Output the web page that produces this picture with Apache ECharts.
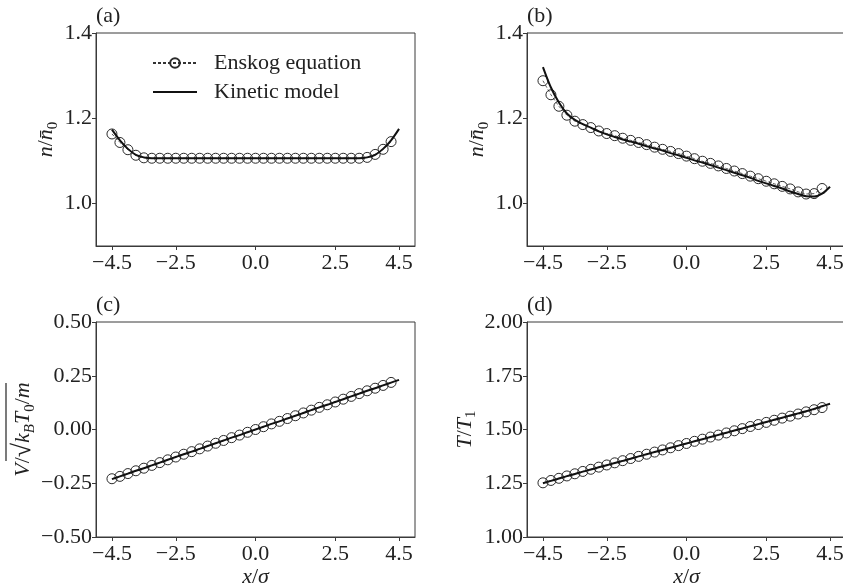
<!DOCTYPE html>
<html>
<head>
<meta charset="utf-8">
<script src="https://cdn.jsdelivr.net/npm/echarts@6/dist/echarts.min.js"></script>
<style>
  html, body { margin: 0; padding: 0; background: #fff; }
  #main { width: 843px; height: 583px; }
</style>
</head>
<body>
<div id="main"></div>
<script>
// x positions (x / sigma)
var xEnskog = [-4.5, -4.25, -4.0, -3.75, -3.5, -3.25, -3.0, -2.75, -2.5, -2.25, -2.0, -1.75,
  -1.5, -1.25, -1.0, -0.75, -0.5, -0.25, 0.0, 0.25, 0.5, 0.75, 1.0, 1.25, 1.5, 1.75,
  2.0, 2.25, 2.5, 2.75, 3.0, 3.25, 3.5, 3.75, 4.0, 4.25];
var xKinetic = [-4.5, -4.25, -4.0, -3.75, -3.5, -3.25, -3.0, -2.75, -2.5, -2.25, -2.0, -1.75,
  -1.5, -1.25, -1.0, -0.75, -0.5, -0.25, 0.0, 0.25, 0.5, 0.75, 1.0, 1.25, 1.5, 1.75,
  2.0, 2.25, 2.5, 2.75, 3.0, 3.25, 3.5, 3.75, 4.0, 4.25, 4.5];

// (a) density
var nEnskogA = [1.163, 1.143, 1.126, 1.113, 1.107,
  1.106, 1.106, 1.106, 1.106, 1.106, 1.106, 1.106, 1.106, 1.106, 1.106, 1.106, 1.106, 1.106, 1.106,
  1.106, 1.106, 1.106, 1.106, 1.106, 1.106, 1.106, 1.106, 1.106, 1.106, 1.106, 1.106, 1.106,
  1.108, 1.115, 1.127, 1.145];
var nKineticA = [1.173, 1.148, 1.128, 1.114, 1.108,
  1.106, 1.106, 1.106, 1.106, 1.106, 1.106, 1.106, 1.106, 1.106, 1.106, 1.106, 1.106, 1.106, 1.106,
  1.106, 1.106, 1.106, 1.106, 1.106, 1.106, 1.106, 1.106, 1.106, 1.106, 1.106, 1.106, 1.106,
  1.108, 1.114, 1.128, 1.148, 1.175];

// (b) density
var nEnskogB = [1.288, 1.255, 1.228, 1.207, 1.193, 1.185, 1.178, 1.170, 1.164, 1.159, 1.153, 1.148,
  1.143, 1.138, 1.132, 1.127, 1.122, 1.117, 1.111, 1.105, 1.099, 1.094, 1.088, 1.082, 1.076, 1.070,
  1.064, 1.058, 1.052, 1.046, 1.040, 1.034, 1.027, 1.022, 1.023, 1.035];
var nKineticB = [1.320, 1.272, 1.237, 1.211, 1.196, 1.186, 1.178, 1.169, 1.162, 1.156, 1.150, 1.145,
  1.140, 1.134, 1.129, 1.124, 1.118, 1.113, 1.107, 1.101, 1.096, 1.090, 1.084, 1.078, 1.072, 1.066,
  1.060, 1.053, 1.047, 1.041, 1.035, 1.028, 1.022, 1.017, 1.016, 1.023, 1.039];

// (c) velocity
var vEnskog = [-0.229, -0.218, -0.205, -0.192, -0.180, -0.167, -0.154, -0.141, -0.128, -0.115, -0.103, -0.090,
  -0.077, -0.064, -0.051, -0.038, -0.026, -0.013, 0.000, 0.013, 0.026, 0.038, 0.051, 0.064, 0.077, 0.090,
  0.103, 0.115, 0.128, 0.141, 0.154, 0.167, 0.180, 0.192, 0.205, 0.219];
var vKinetic = [-0.231, -0.218, -0.205, -0.192, -0.180, -0.167, -0.154, -0.141, -0.128, -0.115, -0.103, -0.090,
  -0.077, -0.064, -0.051, -0.038, -0.026, -0.013, 0.000, 0.013, 0.026, 0.038, 0.051, 0.064, 0.077, 0.090,
  0.103, 0.115, 0.128, 0.141, 0.154, 0.167, 0.180, 0.192, 0.205, 0.218, 0.231];

// (d) temperature
var tEnskog = [1.252, 1.263, 1.273, 1.284, 1.294, 1.305, 1.315, 1.325, 1.335, 1.345, 1.355, 1.365,
  1.375, 1.385, 1.395, 1.405, 1.415, 1.425, 1.435, 1.445, 1.455, 1.465, 1.474, 1.484, 1.494, 1.504,
  1.514, 1.523, 1.533, 1.543, 1.553, 1.562, 1.572, 1.582, 1.592, 1.602];
var tKinetic = [1.250, 1.261, 1.272, 1.283, 1.293, 1.304, 1.314, 1.324, 1.334, 1.344, 1.354, 1.364,
  1.375, 1.385, 1.395, 1.405, 1.415, 1.425, 1.435, 1.445, 1.455, 1.465, 1.475, 1.485, 1.495, 1.505,
  1.515, 1.525, 1.535, 1.545, 1.555, 1.565, 1.575, 1.585, 1.596, 1.608, 1.620];

var xTicks = [-4.5, -2.5, 0, 2.5, 4.5];
var nTicks = [1.0, 1.2, 1.4];
var panelLabels = ['(a)', '(b)', '(c)', '(d)'];

var FONT = 'Liberation Serif';
var INK = '#222';
var SPINE = '#3a3a3a';

function pairs(xs, ys) {
  return ys.map(function (y, i) { return [xs[i], y]; });
}
function minus(s) { return String(s).replace('-', '\u2212'); }

var rich = {
  i: { fontFamily: FONT, fontStyle: 'italic', fontSize: 22, color: INK, lineHeight: 28 },
  r: { fontFamily: FONT, fontSize: 22, color: INK, lineHeight: 28 },
  rad: { fontFamily: FONT, fontSize: 26, color: INK, lineHeight: 28 },
  s: { fontFamily: FONT, fontSize: 15, color: INK, lineHeight: 15, verticalAlign: 'bottom' },
  si: { fontFamily: FONT, fontStyle: 'italic', fontSize: 15, color: INK, lineHeight: 15, verticalAlign: 'bottom' }
};

// fixed plot boxes; (b) and (d) run past the right edge like the original
var grids = [
  { left: 96, top: 33, width: 319, height: 213 },
  { left: 527, top: 33, width: 319, height: 213 },
  { left: 96, top: 322, width: 319, height: 215 },
  { left: 527, top: 322, width: 319, height: 215 }
].map(function (g) {
  return Object.assign({
    show: true, borderColor: SPINE, borderWidth: 1, backgroundColor: 'transparent',
    containLabel: false, outerBoundsMode: 'none'
  }, g);
});

function xAxis(idx, named) {
  return {
    type: 'value', gridIndex: idx, min: -5, max: 5,
    name: named ? '{i|x}{r|/}{i|\u03c3}' : '',
    nameLocation: 'middle', nameGap: 25,
    nameTextStyle: { rich: rich },
    splitLine: { show: false },
    axisLine: { show: true, onZero: false, lineStyle: { color: SPINE, width: 1 } },
    axisTick: { show: true, length: 4, customValues: xTicks, lineStyle: { color: SPINE } },
    axisLabel: {
      customValues: xTicks, margin: 6, fontFamily: FONT, fontSize: 22, color: INK,
      formatter: function (v) { return minus(v.toFixed(1)); }
    }
  };
}

function yAxis(idx, min, max, opts) {
  var a = {
    type: 'value', gridIndex: idx, min: min, max: max,
    name: opts.name, nameLocation: 'middle', nameGap: opts.gap,
    nameTextStyle: { rich: rich },
    splitLine: { show: false },
    axisLine: { show: true, onZero: false, lineStyle: { color: SPINE, width: 1 } },
    axisTick: { show: true, length: 4, lineStyle: { color: SPINE } },
    axisLabel: {
      margin: 4, fontFamily: FONT, fontSize: 22, color: INK,
      formatter: function (v) { return minus(v.toFixed(opts.dec)); }
    }
  };
  if (opts.ticks) {
    a.axisTick.customValues = opts.ticks;
    a.axisLabel.customValues = opts.ticks;
  } else {
    a.interval = opts.interval;
  }
  return a;
}

var nName = '{i|n}{r|/}{i|n\u0304}{s|0}';

function enskog(idx, xs, ys) {
  return {
    name: 'Enskog equation', type: 'line', xAxisIndex: idx, yAxisIndex: idx,
    data: pairs(xs, ys), symbol: 'circle', symbolSize: 10, z: 2,
    itemStyle: { color: 'rgba(0,0,0,0)', borderColor: '#2a2a2a', borderWidth: 1 },
    lineStyle: { color: '#333', width: 0.8, type: [3, 2] },
    emphasis: { disabled: true }, animation: false
  };
}
function kinetic(idx, xs, ys) {
  return {
    name: 'Kinetic model', type: 'line', xAxisIndex: idx, yAxisIndex: idx,
    data: pairs(xs, ys), showSymbol: false, symbol: 'none', smooth: 0.3, z: 3,
    itemStyle: { color: '#111' },
    lineStyle: { color: '#111', width: 2 },
    emphasis: { disabled: true }, animation: false
  };
}

var chart = echarts.init(document.getElementById('main'), null, { renderer: 'canvas' });
chart.setOption({
  backgroundColor: '#fff',
  animation: false,
  grid: grids,
  xAxis: [xAxis(0, false), xAxis(1, false), xAxis(2, true), xAxis(3, true)],
  yAxis: [
    yAxis(0, 0.9, 1.4, { ticks: nTicks, dec: 1, name: nName, gap: 34 }),
    yAxis(1, 0.9, 1.4, { ticks: nTicks, dec: 1, name: nName, gap: 34 }),
    yAxis(2, -0.5, 0.5, { interval: 0.25, dec: 2, gap: 58,
      name: '{i|V}{r|/}{rad|\u221a}{i|k}{si|B}{i|T}{s|0}{r|/}{i|m}' }),
    yAxis(3, 1.0, 2.0, { interval: 0.25, dec: 2, gap: 48, name: '{i|T}{r|/}{i|T}{s|1}' })
  ],
  legend: {
    orient: 'vertical', left: 147, top: 46,
    itemWidth: 44, itemHeight: 12, itemGap: 5,
    data: [
      { name: 'Enskog equation' },
      { name: 'Kinetic model', itemStyle: { opacity: 0 } }
    ],
    textStyle: { fontFamily: FONT, fontSize: 22, color: INK, lineHeight: 24, padding: [0, 0, 0, 12] },
    selectedMode: false
  },
  graphic: panelLabels.map(function (t, i) {
    return {
      type: 'text', left: grids[i].left, top: grids[i].top - 28,
      style: { text: t, font: '22px "' + FONT + '"', fill: INK }
    };
  }).concat([{
    // vinculum of the square root in the (c) axis title
    type: 'line', shape: { x1: 6, y1: 383, x2: 6, y2: 461 },
    style: { stroke: INK, lineWidth: 1.2 }
  }]),
  series: [
    enskog(0, xEnskog, nEnskogA), kinetic(0, xKinetic, nKineticA),
    enskog(1, xEnskog, nEnskogB), kinetic(1, xKinetic, nKineticB),
    enskog(2, xEnskog, vEnskog), kinetic(2, xKinetic, vKinetic),
    enskog(3, xEnskog, tEnskog), kinetic(3, xKinetic, tKinetic)
  ]
});
</script>
</body>
</html>
